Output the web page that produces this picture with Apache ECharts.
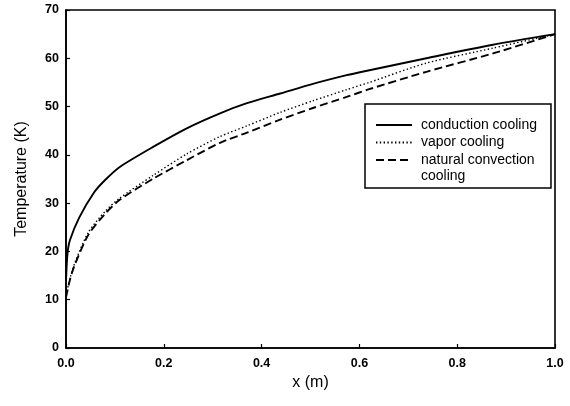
<!DOCTYPE html>
<html>
<head>
<meta charset="utf-8">
<script src="https://cdn.jsdelivr.net/npm/echarts@6/dist/echarts.min.js"></script>
<style>
html,body{margin:0;padding:0;background:#fff;}
#chart{width:570px;height:406px;}
</style>
</head>
<body>
<div id="chart"></div>
<script>
var seriesNames = ['conduction cooling', 'vapor cooling', 'natural convection cooling'];
var legendLabels = ['conduction cooling', 'vapor cooling', 'natural convection', 'cooling'];

var conductionX = [0, 0.003, 0.008, 0.027, 0.058, 0.080, 0.110, 0.179, 0.247, 0.315, 0.37, 0.438, 0.505, 0.574, 0.601, 0.737, 0.873, 1.0];
var conductionY = [14, 19.5, 22.3, 27.0, 32.3, 34.8, 37.5, 41.7, 45.5, 48.6, 50.7, 52.7, 54.7, 56.5, 57.1, 60.0, 62.8, 65.0];

var vaporX = [0, 0.009, 0.019, 0.046, 0.080, 0.108, 0.179, 0.247, 0.315, 0.37, 0.438, 0.505, 0.574, 0.62, 0.737, 0.873, 1.0];
var vaporY = [11, 14.7, 17.9, 24.0, 28.3, 30.9, 35.8, 40.2, 43.8, 46.0, 48.8, 51.2, 53.5, 55.0, 59.0, 62.1, 65.0];

var naturalX = [0, 0.009, 0.019, 0.046, 0.080, 0.110, 0.179, 0.247, 0.315, 0.37, 0.438, 0.505, 0.574, 0.62, 0.737, 0.873, 1.0];
var naturalY = [10.5, 14.5, 17.5, 23.5, 27.8, 30.7, 35.1, 38.9, 42.5, 44.6, 47.3, 49.7, 52.0, 53.6, 57.2, 61.0, 65.0];

var xTicks = [0, 0.2, 0.4, 0.6, 0.8, 1.0];
var yTicks = [0, 10, 20, 30, 40, 50, 60, 70];

function pairs(xs, ys) { return xs.map(function (x, i) { return [x, ys[i]]; }); }

var FONT = '"Liberation Sans", Arial, Helvetica, sans-serif';
var chart = echarts.init(document.getElementById('chart'), null, {renderer: 'canvas'});
chart.setOption({
  animation: false,
  backgroundColor: '#fff',
  grid: {left: 66, right: 15, top: 10, bottom: 58, show: true, borderColor: '#000', borderWidth: 1.6, backgroundColor: 'transparent'},
  xAxis: {
    type: 'value', min: xTicks[0], max: xTicks[xTicks.length - 1], interval: 0.2,
    name: 'x (m)', nameLocation: 'middle', nameGap: 26,
    nameTextStyle: {fontFamily: FONT, fontSize: 16, color: '#000'},
    axisLine: {show: true, lineStyle: {color: '#000', width: 1.6}},
    axisTick: {show: true, inside: true, length: 4, lineStyle: {color: '#000', width: 1.2}},
    axisLabel: {fontFamily: FONT, fontSize: 12.5, fontWeight: 'bold', color: '#000', margin: 9, formatter: function (v) { return v.toFixed(1); }},
    splitLine: {show: false}
  },
  yAxis: {
    type: 'value', min: yTicks[0], max: yTicks[yTicks.length - 1], interval: 10,
    name: 'Temperature (K)', nameLocation: 'middle', nameGap: 36,
    nameTextStyle: {fontFamily: FONT, fontSize: 16, color: '#000'},
    axisLine: {show: true, lineStyle: {color: '#000', width: 1.6}},
    axisTick: {show: true, inside: true, length: 4, lineStyle: {color: '#000', width: 1.2}},
    axisLabel: {fontFamily: FONT, fontSize: 12.5, fontWeight: 'bold', color: '#000', margin: 7},
    splitLine: {show: false}
  },
  legend: {
    orient: 'vertical', left: 365, top: 104, z: 5,
    padding: [13, 14, 20, 10],
    itemGap: 1.5, itemWidth: 36, itemHeight: 16,
    borderColor: '#000', borderWidth: 1.5, backgroundColor: '#fff',
    itemStyle: {color: 'transparent', borderColor: 'transparent', borderWidth: 0, opacity: 0},
    textStyle: {fontFamily: FONT, fontSize: 14, color: '#000', lineHeight: 16, padding: [0, 0, 0, 4]},
    formatter: function (name) {
      var i = seriesNames.indexOf(name);
      return legendLabels[i];
    },
    data: seriesNames
  },
  graphic: [{
    type: 'text', left: 421, top: 169, silent: true, z: 100, zlevel: 0,
    style: {text: legendLabels[3], fontFamily: FONT, fontSize: 14, fill: '#000'}
  }],
  series: [
    {name: seriesNames[0], type: 'line', data: pairs(conductionX, conductionY), showSymbol: false, symbol: 'none', smooth: 0.25,
     lineStyle: {color: '#000', width: 1.9, type: 'solid'}, itemStyle: {color: '#000'}},
    {name: seriesNames[1], type: 'line', data: pairs(vaporX, vaporY), showSymbol: false, symbol: 'none', smooth: 0.25,
     lineStyle: {color: '#000', width: 1.4, type: [1.4, 2.4]}, itemStyle: {color: '#000'}},
    {name: seriesNames[2], type: 'line', data: pairs(naturalX, naturalY), showSymbol: false, symbol: 'none', smooth: 0.25,
     lineStyle: {color: '#000', width: 1.9, type: [8, 4]}, itemStyle: {color: '#000'}}
  ]
});
</script>
</body>
</html>
